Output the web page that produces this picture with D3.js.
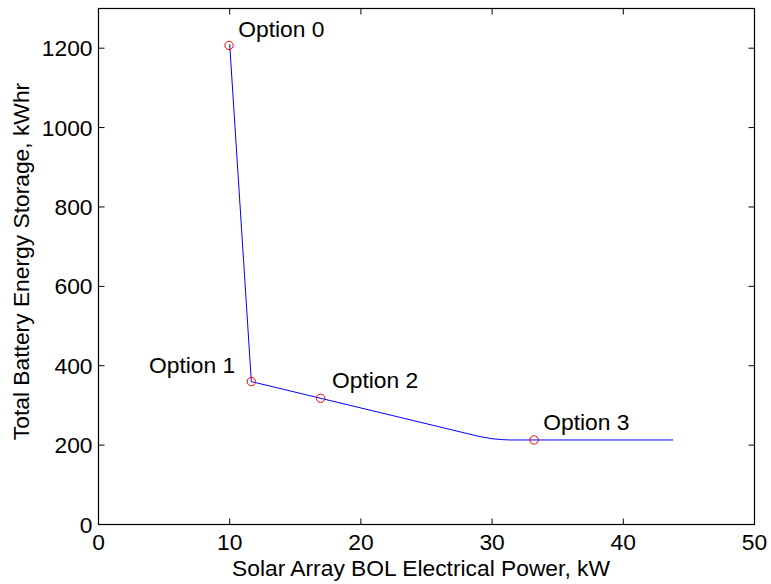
<!DOCTYPE html>
<html>
<head>
<meta charset="utf-8">
<script src="https://cdn.jsdelivr.net/npm/d3@7"></script>
<style>
  html, body { margin: 0; padding: 0; background: #fff; }
  svg { display: block; font-family: "Liberation Sans", Arial, Helvetica, sans-serif; }
</style>
</head>
<body>
<svg id="chart" width="771" height="584"></svg>
<script>
// ---- data ----
const lineX = [10, 11.65, 16.93, 29.0, 30.0, 30.7, 31.3, 33.2, 43.8];
const lineY = [1210, 360, 318, 222, 216, 214, 213, 213, 213];
const optionNames = ["Option 0", "Option 1", "Option 2", "Option 3"];
const optionX = [9.95, 11.65, 16.93, 33.2];
const optionY = [1207, 360, 318, 213];
const labelX = [10.65, 3.85, 17.8, 33.9];
const labelY = [1227, 382, 344, 239];
const xTicks = [0, 10, 20, 30, 40, 50];
const yTicks = [0, 200, 400, 600, 800, 1000, 1200];
const xTitle = "Solar Array BOL Electrical Power, kW";
const yTitle = "Total Battery Energy Storage, kWhr";

// ---- layout ----
const L = 98.5, R = 754.5, T = 8.5, B = 524.5;
const svg = d3.select("#chart");
const x = d3.scaleLinear().domain([0, 50]).range([L, R]);
const y = d3.scaleLinear().domain([0, 1300]).range([B, T]);
const fs = 22.8;

// ticks (inward, all four sides)
const tl = 6;
const g = svg.append("g");
xTicks.forEach(v => {
  g.append("line").attr("x1", x(v)).attr("x2", x(v)).attr("y1", B).attr("y2", B - tl).attr("stroke", "#000");
  g.append("line").attr("x1", x(v)).attr("x2", x(v)).attr("y1", T).attr("y2", T + tl).attr("stroke", "#000");
  g.append("text").attr("x", x(v)).attr("y", B + 25.5).attr("text-anchor", "middle")
    .attr("font-size", fs).text(v);
});
yTicks.forEach(v => {
  g.append("line").attr("x1", L).attr("x2", L + tl).attr("y1", y(v)).attr("y2", y(v)).attr("stroke", "#000");
  g.append("line").attr("x1", R).attr("x2", R - tl).attr("y1", y(v)).attr("y2", y(v)).attr("stroke", "#000");
  g.append("text").attr("x", L - 6).attr("y", y(v) + 8).attr("text-anchor", "end")
    .attr("font-size", fs).text(v);
});

// box
svg.append("rect").attr("x", L).attr("y", T).attr("width", R - L).attr("height", B - T)
  .attr("fill", "none").attr("stroke", "#000").attr("stroke-width", 1.2);

// line
const pts = lineX.map((v, i) => [v, lineY[i]]);
svg.append("path").datum(pts)
  .attr("d", d3.line().x(d => x(d[0])).y(d => y(d[1])))
  .attr("fill", "none").attr("stroke", "#0000ff").attr("stroke-width", 1);

// option markers
svg.selectAll("circle.opt").data(optionX).enter().append("circle")
  .attr("class", "opt")
  .attr("cx", (d) => x(d)).attr("cy", (d, i) => y(optionY[i])).attr("r", 4.2)
  .attr("fill", "none").attr("stroke", "#ff0000").attr("stroke-width", 1);

// option labels
svg.selectAll("text.lab").data(optionNames).enter().append("text")
  .attr("class", "lab")
  .attr("x", (d, i) => x(labelX[i])).attr("y", (d, i) => y(labelY[i]))
  .attr("font-size", fs).text(d => d);

// axis titles
svg.append("text").attr("x", 421).attr("y", 576).attr("text-anchor", "middle")
  .attr("font-size", fs).text(xTitle);
svg.append("text").attr("transform", "translate(29," + 261.5 + ") rotate(-90)")
  .attr("text-anchor", "middle").attr("font-size", fs).text(yTitle);
</script>
</body>
</html>
